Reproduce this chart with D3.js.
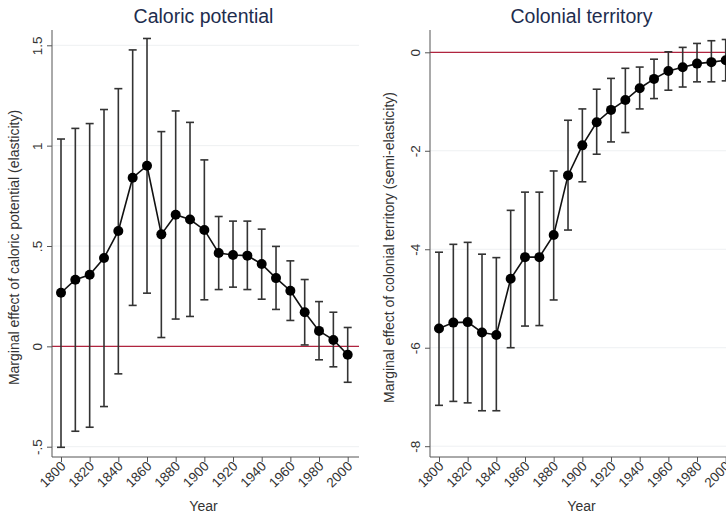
<!DOCTYPE html>
<html>
<head>
<meta charset="utf-8">
<script src="https://cdn.jsdelivr.net/npm/d3@7"></script>
<style>
  html, body { margin: 0; padding: 0; background: #fff; overflow: hidden; }
  svg { display: block; font-family: "Liberation Sans", Arial, sans-serif; }
</style>
</head>
<body>
<svg id="chart" width="726" height="518"></svg>
<script>
const years = [1800,1810,1820,1830,1840,1850,1860,1870,1880,1890,1900,1910,1920,1930,1940,1950,1960,1970,1980,1990,2000];

const caloricEst   = [0.267,0.332,0.357,0.44,0.575,0.84,0.90,0.558,0.656,0.632,0.58,0.465,0.455,0.452,0.41,0.34,0.277,0.17,0.077,0.032,-0.042];
const caloricLower = [-0.503,-0.423,-0.403,-0.30,-0.137,0.204,0.265,0.044,0.136,0.149,0.232,0.283,0.295,0.283,0.235,0.184,0.129,0.007,-0.067,-0.102,-0.179];
const caloricUpper = [1.033,1.086,1.11,1.18,1.284,1.477,1.534,1.07,1.173,1.116,0.929,0.647,0.624,0.624,0.584,0.498,0.426,0.333,0.223,0.17,0.094];

const colonialEst   = [-5.61,-5.49,-5.48,-5.69,-5.74,-4.60,-4.16,-4.16,-3.71,-2.50,-1.89,-1.42,-1.17,-0.97,-0.73,-0.54,-0.38,-0.305,-0.23,-0.20,-0.16];
const colonialLower = [-7.17,-7.09,-7.12,-7.28,-7.28,-6.0,-5.56,-5.55,-5.03,-3.61,-2.63,-2.07,-1.82,-1.63,-1.15,-0.94,-0.77,-0.705,-0.60,-0.60,-0.58];
const colonialUpper = [-4.06,-3.90,-3.86,-4.10,-4.17,-3.21,-2.84,-2.84,-2.41,-1.38,-1.15,-0.75,-0.53,-0.325,-0.30,-0.14,0.01,0.10,0.18,0.235,0.26];

const xTicks = [1800,1820,1840,1860,1880,1900,1920,1940,1960,1980,2000];
const caloricTicks = [-0.5,0,0.5,1,1.5];
const caloricTickLabels = ["-.5","0",".5","1","1.5"];
const colonialTicks = [-8,-6,-4,-2,0];
const colonialTickLabels = ["-8","-6","-4","-2","0"];

const svg = d3.select("#chart");

function panel(opts) {
  const g = svg.append("g");
  const left = opts.left, right = opts.left + 307, top = 30, bottom = 457;
  const x = d3.scaleLinear().domain([1800, 2000]).range([left + 9, left + 295.7]);
  const y = d3.scaleLinear().domain(opts.yDomain).range(opts.yRange);

  // gridlines
  g.append("g").selectAll("line").data(opts.ticks).join("line")
    .attr("x1", left).attr("x2", right)
    .attr("y1", d => y(d)).attr("y2", d => y(d))
    .attr("stroke", "#eef0f2").attr("stroke-width", 1);

  // reference line at 0
  g.append("line")
    .attr("x1", left).attr("x2", right)
    .attr("y1", y(0)).attr("y2", y(0))
    .attr("stroke", "#b0243f").attr("stroke-width", 1.2);

  // y axis
  const yAxis = d3.axisLeft(y).tickValues(opts.ticks)
    .tickFormat((d, i) => opts.tickLabels[i]).tickSize(5).tickPadding(4);
  const ya = g.append("g").attr("transform", `translate(${left},0)`).call(yAxis);
  ya.select(".domain").attr("d", `M0,${top}V${bottom}`).attr("stroke", "#555");
  ya.selectAll(".tick line").attr("stroke", "#555");
  ya.selectAll(".tick text")
    .attr("font-size", 13.5).attr("fill", "#333")
    .attr("text-anchor", "middle")
    .attr("x", null).attr("dy", null)
    .attr("transform", "translate(-10,0) rotate(-90)");

  // x axis
  const xAxis = d3.axisBottom(x).tickValues(xTicks).tickFormat(d3.format("d")).tickSize(5).tickPadding(2);
  const xa = g.append("g").attr("transform", `translate(0,${bottom})`).call(xAxis);
  xa.select(".domain").attr("d", `M${left},0H${right}`).attr("stroke", "#555");
  xa.selectAll(".tick line").attr("stroke", "#555");
  xa.selectAll(".tick text")
    .attr("font-size", 13.5).attr("fill", "#333")
    .attr("text-anchor", "end")
    .attr("y", null).attr("dy", null)
    .attr("transform", "translate(5,10) rotate(-45)");

  // axis titles
  g.append("text").attr("x", (left + right) / 2 - 2).attr("y", 511)
    .attr("text-anchor", "middle").attr("font-size", 14).attr("fill", "#333").text("Year");
  g.append("text")
    .attr("transform", `translate(${left - opts.labelOffset},${(top + bottom) / 2 + 4}) rotate(-90)`)
    .attr("text-anchor", "middle").attr("font-size", 14).attr("fill", "#333")
    .text(opts.yLabel);

  // title
  g.append("text").attr("x", (left + right) / 2 - 2).attr("y", 23)
    .attr("text-anchor", "middle").attr("font-size", 19.5).attr("fill", "#1e2d4e").text(opts.title);

  // error bars
  const eb = g.append("g").attr("stroke", "#333").attr("stroke-width", 1.6);
  eb.selectAll("line.v").data(years).join("line").attr("class", "v")
    .attr("x1", d => x(d)).attr("x2", d => x(d))
    .attr("y1", (d, i) => y(opts.lower[i])).attr("y2", (d, i) => y(opts.upper[i]));
  eb.selectAll("line.u").data(years).join("line").attr("class", "u")
    .attr("x1", d => x(d) - 4).attr("x2", d => x(d) + 4)
    .attr("y1", (d, i) => y(opts.upper[i])).attr("y2", (d, i) => y(opts.upper[i]));
  eb.selectAll("line.l").data(years).join("line").attr("class", "l")
    .attr("x1", d => x(d) - 4).attr("x2", d => x(d) + 4)
    .attr("y1", (d, i) => y(opts.lower[i])).attr("y2", (d, i) => y(opts.lower[i]));

  // connecting line
  const line = d3.line().x((d, i) => x(years[i])).y(d => y(d));
  g.append("path").datum(opts.est).attr("d", line)
    .attr("fill", "none").attr("stroke", "#111").attr("stroke-width", 1.6);

  // markers
  g.append("g").selectAll("circle").data(opts.est).join("circle")
    .attr("cx", (d, i) => x(years[i])).attr("cy", d => y(d)).attr("r", 5)
    .attr("fill", "#000");
}

panel({
  left: 52, labelOffset: 33,
  yDomain: [-0.5, 1.5], yRange: [446.7, 45.3],
  ticks: caloricTicks, tickLabels: caloricTickLabels,
  est: caloricEst, lower: caloricLower, upper: caloricUpper,
  title: "Caloric potential",
  yLabel: "Marginal effect of caloric potential (elasticity)"
});

panel({
  left: 430, labelOffset: 36,
  yDomain: [-8, 0], yRange: [446.2, 52.3],
  ticks: colonialTicks, tickLabels: colonialTickLabels,
  est: colonialEst, lower: colonialLower, upper: colonialUpper,
  title: "Colonial territory",
  yLabel: "Marginal effect of colonial territory (semi-elasticity)"
});
</script>
</body>
</html>
